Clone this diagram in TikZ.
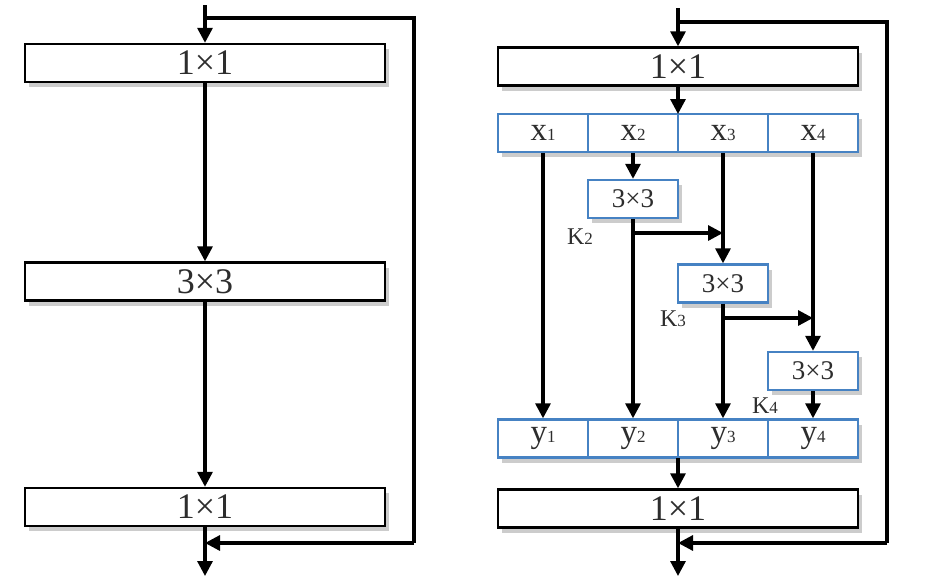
\documentclass[tikz,border=0pt]{standalone}
\usepackage{fontspec}
\setmainfont{Liberation Serif}
\usetikzlibrary{arrows.meta,shadows}
\definecolor{cellblue}{RGB}{70,130,195}
\definecolor{txt}{RGB}{45,45,45}
\newcommand{\smallidx}[1]{{\fontsize{17}{17}\selectfont #1}}
\begin{document}
\begin{tikzpicture}[x=1pt,y=-1pt,
  shad/.style={drop shadow={shadow xshift=4pt,shadow yshift=-5pt,opacity=0.4,fill=gray}},
  widebox/.style={draw=black,line width=2.4pt,fill=white,minimum width=360pt,minimum height=38pt,inner sep=0pt,shad,text=txt,font=\fontsize{36}{36}\selectfont},
  cell/.style={draw=cellblue,line width=2.4pt,fill=white,minimum width=90pt,minimum height=38pt,inner sep=0pt,shad,text=txt,font=\fontsize{33}{33}\selectfont},
  convbox/.style={cell,font=\fontsize{27}{27}\selectfont},
  klabel/.style={text=txt,font=\fontsize{24}{24}\selectfont,inner sep=0pt},
  conn/.style={line width=3.2pt,black},
  arr/.style={conn,-{Triangle[length=15pt,width=15pt]}}]
\useasboundingbox (0,0) rectangle (930,584);

% ---------- left block ----------
\node[widebox] (l1) at (205,63) {1×1};
\node[widebox] (l3) at (205,281.5) {3×3};
\node[widebox] (l5) at (205,507) {1×1};
\coordinate (lin) at (205,5);
\coordinate (lsplit) at (205,18);
\coordinate (lskr) at (414,18);
\coordinate (lskb) at (414,543);
\coordinate (lmerge) at (205,543);
\coordinate (lout) at (205,576);
\draw[arr] (lin) -- (l1.north);
\draw[arr] (l1.south) -- (l3.north);
\draw[arr] (l3.south) -- (l5.north);
\draw[arr] (l5.south) -- (lout);
\draw[conn] (lsplit) -- (lskr) -- (lskb);
\draw[arr] (lskb) -- (lmerge);

% ---------- right block ----------
\node[widebox] (r1) at (678,66.5) {1×1};
\node[cell] (x1) at (543,133) {x\smallidx{1}};
\node[cell] (x2) at (633,133) {x\smallidx{2}};
\node[cell] (x3) at (723,133) {x\smallidx{3}};
\node[cell] (x4) at (813,133) {x\smallidx{4}};
\node[convbox] (k2) at (633,199) {3×3};
\node[convbox] (k3) at (723,283.5) {3×3};
\node[convbox] (k4) at (813,371) {3×3};
\node[klabel] (k2l) at (580,237) {K\smallidx{2}};
\node[klabel] (k3l) at (673,319) {K\smallidx{3}};
\node[klabel] (k4l) at (765,406) {K\smallidx{4}};
\node[cell] (y1) at (543,438.5) {y\smallidx{1}};
\node[cell] (y2) at (633,438.5) {y\smallidx{2}};
\node[cell] (y3) at (723,438.5) {y\smallidx{3}};
\node[cell] (y4) at (813,438.5) {y\smallidx{4}};
\node[widebox] (r5) at (678,508.5) {1×1};

\coordinate (rin) at (678,8);
\coordinate (rsplit) at (678,22);
\coordinate (rskr) at (887,22);
\coordinate (rskb) at (887,543);
\coordinate (rmerge) at (678,543);
\coordinate (rout) at (678,576);
\coordinate (xtop) at (678,114);
\coordinate (ybot) at (678,457.5);
\coordinate (b2) at (633,233);
\coordinate (b3) at (723,318);

\draw[arr] (rin) -- (r1.north);
\draw[arr] (r1.south) -- (xtop);
\draw[arr] (x1.south) -- (y1.north);
\draw[arr] (x2.south) -- (k2.north);
\draw[arr] (k2.south) -- (y2.north);
\draw[arr] (b2) -- (b2 -| x3.south);
\draw[arr] (x3.south) -- (k3.north);
\draw[arr] (k3.south) -- (y3.north);
\draw[arr] (b3) -- (b3 -| x4.south);
\draw[arr] (x4.south) -- (k4.north);
\draw[arr] (k4.south) -- (y4.north);
\draw[arr] (ybot) -- (r5.north);
\draw[arr] (r5.south) -- (rout);
\draw[conn] (rsplit) -- (rskr) -- (rskb);
\draw[arr] (rskb) -- (rmerge);
\end{tikzpicture}
\end{document}
